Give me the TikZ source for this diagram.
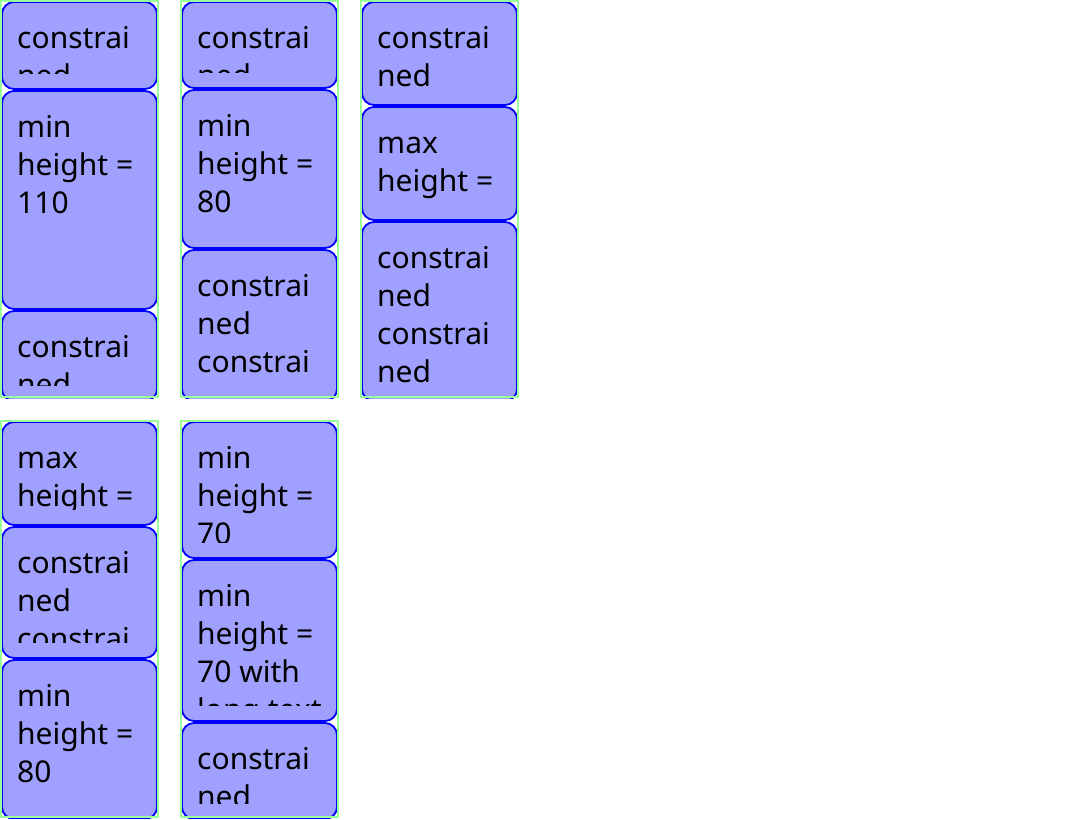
\documentclass[tikz,border=0pt]{standalone}
\usepackage{fontspec}
\setmainfont{Noto Sans}
\definecolor{itemfill}{HTML}{A0A0FF}
\definecolor{itemline}{HTML}{0000FF}
\definecolor{frameline}{HTML}{99FF99}
\tikzset{x=1pt, y=-1pt,
 flexitem/.style={draw=itemline, fill=itemfill, line width=1.8pt, rounded corners=12pt},
 flexframe/.style={draw=frameline, line width=2pt},
 itemtext/.style={anchor=base west, inner sep=0pt, font=\fontsize{30}{38}\selectfont},
 }
% one item: name, left, top, bottom, lines of text
\newcommand{\flexbox}[5]{%
  \draw[flexitem] (#2+2,#3) rectangle (#2+157,#4);
  \begin{scope}
    \clip (#2+2,#3+16) rectangle (#2+157,#4-16);
    \foreach \txt [count=\i from 0] in {#5}
      \node[itemtext] (#1-\i) at (#2+17,#3+46.5+38*\i) {\txt};
  \end{scope}}
% one column frame: left, top
\newcommand{\flexframe}[3]{%
  \begin{scope}
    \clip (#1,#2) rectangle (#1+159,#2+398);
    #3
  \end{scope}
  \draw[flexframe] (#1+1,#2+1) rectangle (#1+158,#2+397);}

\begin{document}
\begin{tikzpicture}
    \useasboundingbox (0,0) rectangle (1080,820);
    \fill[white] (0,0) rectangle (1080,820);
    % top row
    \flexframe{0}{0}{
        \flexbox{a1}{0}{2}{89}{constrai,ned}
        \flexbox{a2}{0}{91}{309}{min,height =,110}
        \flexbox{a3}{0}{311}{401}{constrai,ned}
    }
    \flexframe{180}{0}{
        \flexbox{b1}{180}{2}{88}{constrai,ned}
        \flexbox{b2}{180}{90}{248}{min,height =,80}
        \flexbox{b3}{180}{250}{401}{constrai,ned,constrai,ned}
    }
    \flexframe{360}{0}{
        \flexbox{c1}{360}{2}{105}{constrai,ned}
        \flexbox{c2}{360}{107}{220}{max,height =}
        \flexbox{c3}{360}{222}{401}{constrai,ned,constrai,ned}
    }
    % bottom row
    \flexframe{0}{420}{
        \flexbox{d1}{0}{422}{525}{max,height =}
        \flexbox{d2}{0}{527}{658}{constrai,ned,constrai}
        \flexbox{d3}{0}{660}{819}{min,height =,80}
    }
    \flexframe{180}{420}{
        \flexbox{e1}{180}{422}{558}{min,height =,70}
        \flexbox{e2}{180}{560}{721}{min,height =,70 with,long text}
        \flexbox{e3}{180}{723}{819}{constrai,ned}
    }
\end{tikzpicture}
\end{document}
